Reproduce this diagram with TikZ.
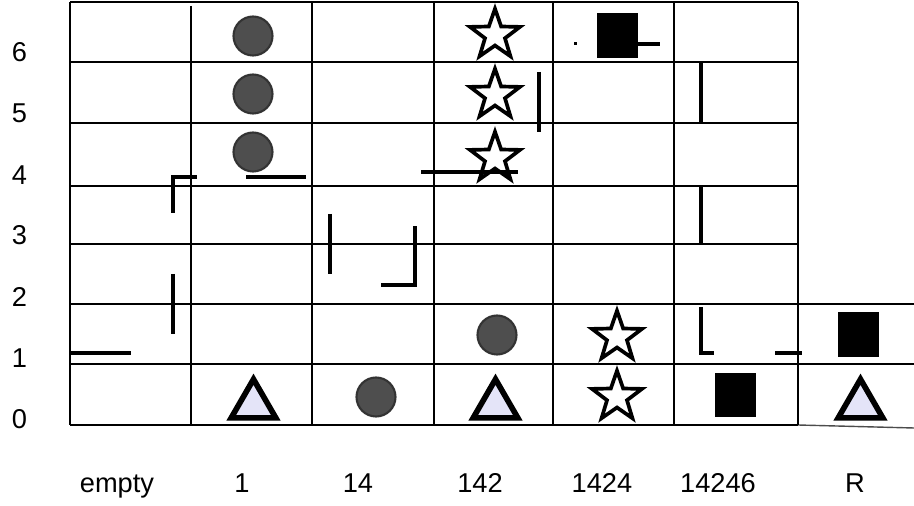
\documentclass[tikz,border=0pt]{standalone}
\usepackage{tikz}
\usetikzlibrary{shapes.geometric}
\usepackage{xcolor}
\usepackage{fontspec}
\setmainfont{Liberation Sans}
\definecolor{discgray}{RGB}{78,78,78}
\definecolor{trifill}{RGB}{228,228,248}
\tikzset{
  gridline/.style={line width=1.5pt},
  wall/.style={line width=1.9pt},
  disc/.style={circle,draw=black!80,line width=1.2pt,fill=discgray,inner sep=0pt,minimum size=0.78cm},
  starmark/.style={star,star points=5,star point ratio=2.5,draw=black,line width=2.1pt,fill=white,inner sep=0pt,minimum size=1.05cm},
  blk/.style={rectangle,fill=black,inner sep=0pt,minimum width=0.82cm,minimum height=0.9cm},
  tri/.style={regular polygon,regular polygon sides=3,draw=black,line width=3.2pt,fill=trifill,inner sep=0pt,minimum size=1.03cm},
  lab/.style={anchor=base,inner sep=0pt}
}

\begin{document}
\begin{tikzpicture}[x=0.02cm,y=-0.02cm,font=\fontsize{15.5}{18}\selectfont]
\useasboundingbox (0,0) rectangle (914,506);
\draw[gridline] (70,2) -- (798,2);
\draw[gridline] (70,62) -- (798,62);
\draw[gridline] (70,123) -- (798,123);
\draw[gridline] (70,186) -- (798,186);
\draw[gridline] (70,244) -- (798,244);
\draw[gridline] (70,304) -- (914,304);
\draw[gridline] (70,364) -- (914,364);
\draw[gridline] (70,425) -- (798,425);
\draw[black!70,line width=0.8pt] (798,425) -- (914,428);
\draw[gridline] (70,2) -- (70,425);
\draw[gridline] (191,6) -- (191,425);
\draw[gridline] (312,2) -- (312,425);
\draw[gridline] (434,2) -- (434,425);
\draw[gridline] (553,2) -- (553,425);
\draw[gridline] (674,2) -- (674,425);
\draw[gridline] (798,2) -- (798,425);
\draw[wall] (70,353) -- (131,353);
\draw[wall] (173,274) -- (173,334);
\draw[wall] (173,213) -- (173,177) -- (197,177);
\draw[wall] (246,177) -- (306,177);
\draw[wall] (330,214) -- (330,274);
\draw[wall] (381,285) -- (415,285) -- (415,226);
\draw[wall] (539,72) -- (539,132);
\draw[wall] (638,44) -- (660,44);
\fill (573.5,42.5) rectangle (576.5,45.5);
\draw[wall] (701,63) -- (701,123);
\draw[wall] (701,186) -- (701,245);
\draw[wall] (701,307) -- (701,353) -- (714,353);
\draw[wall] (775,353) -- (802,353);
\node[disc] (disc1a) at (253,36) {};
\node[disc] (disc1b) at (253,94) {};
\node[disc] (disc1c) at (253,152) {};
\node[disc] (disc14) at (376,397) {};
\node[disc] (disc142) at (497,335) {};
\node[starmark] (star142a) at (495,35) {};
\node[starmark] (star142b) at (495,95) {};
\node[starmark] (star142c) at (495,158) {};
\draw[wall] (421,172) -- (518,172);
\node[starmark] (star1424a) at (617,337) {};
\node[starmark] (star1424b) at (617,397) {};
\node[blk] (blk1424) at (617.5,35.5) {};
\node[blk] (blk14246) at (735.5,395) {};
\node[blk] (blkR) at (858.5,334.5) {};
\node[tri] (tri1) at (253.5,405) {};
\node[tri] (tri142) at (495.5,405) {};
\node[tri] (triR) at (860.5,405) {};
\node[lab] (row6) at (19.5,62) {6};
\node[lab] (row5) at (19.5,123) {5};
\node[lab] (row4) at (19.5,185) {4};
\node[lab] (row3) at (19.5,245) {3};
\node[lab] (row2) at (19.5,307) {2};
\node[lab] (row1) at (19.5,368) {1};
\node[lab] (row0) at (19.5,429) {0};
\node[lab] (colE) at (117,493) {empty};
\node[lab] (colA) at (242,493) {1};
\node[lab] (colB) at (358,493) {14};
\node[lab] (colC) at (480,493) {142};
\node[lab] (colD) at (602,493) {1424};
\node[lab] (colF) at (718,493) {14246};
\node[lab] (colR) at (855,493) {R};
\end{tikzpicture}
\end{document}
